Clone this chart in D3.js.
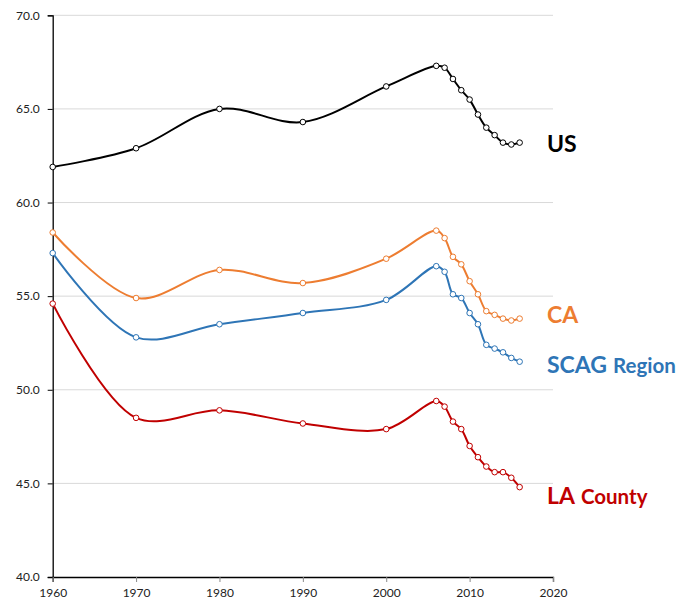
<!DOCTYPE html>
<html>
<head>
<meta charset="utf-8">
<script src="https://cdn.jsdelivr.net/npm/d3@7"></script>
<style>
  html, body { margin: 0; padding: 0; background: #fff; }
  svg { display: block; }
  text { font-family: Lato, "Open Sans", "DejaVu Sans", sans-serif; }
</style>
</head>
<body>
<svg id="chart" width="686" height="614"></svg>
<script>
const years = [1960, 1970, 1980, 1990, 2000, 2006, 2007, 2008, 2009, 2010, 2011, 2012, 2013, 2014, 2015, 2016];
const usValues   = [61.9, 62.9, 65.0, 64.3, 66.2, 67.3, 67.2, 66.6, 66.0, 65.5, 64.7, 64.0, 63.6, 63.2, 63.1, 63.2];
const caValues   = [58.4, 54.9, 56.4, 55.7, 57.0, 58.5, 58.1, 57.1, 56.7, 55.8, 55.1, 54.2, 54.0, 53.8, 53.7, 53.8];
const scagValues = [57.3, 52.8, 53.5, 54.1, 54.8, 56.6, 56.3, 55.1, 54.9, 54.1, 53.5, 52.4, 52.2, 52.0, 51.7, 51.5];
const laValues   = [54.6, 48.5, 48.9, 48.2, 47.9, 49.4, 49.1, 48.3, 47.9, 47.0, 46.4, 45.9, 45.6, 45.6, 45.3, 44.8];
const seriesNames = ["US", "CA", "SCAG", "LA"];
const seriesSub = ["", "", "Region", "County"];
const seriesColors = ["#000000", "#ED7D31", "#2E75B6", "#C00000"];
const xTicks = [1960, 1970, 1980, 1990, 2000, 2010, 2020];
const yTicks = [40, 45, 50, 55, 60, 65, 70];

(function () {
const allValues = [usValues, caValues, scagValues, laValues];
const labelY = [151.5, 323, 372.5, 504];

const svg = d3.select("#chart");
const mLeft = 52.7, mRight = 553, mTop = 15.3, mBottom = 577;
const x = d3.scaleLinear().domain([1960, 2020]).range([mLeft, mRight]);
const y = d3.scaleLinear().domain([40, 70]).range([mBottom, mTop]);

// gridlines
svg.append("g").selectAll("line").data(yTicks.filter(d => d !== 40)).join("line")
  .attr("x1", mLeft).attr("x2", mRight)
  .attr("y1", d => y(d)).attr("y2", d => y(d))
  .attr("stroke", "#d9d9d9").attr("stroke-width", 1);

// y axis
const yAxis = svg.append("g").attr("transform", `translate(${mLeft},0)`)
  .call(d3.axisLeft(y).tickValues(yTicks).tickFormat(d3.format(".1f")).tickSize(5).tickPadding(8));
yAxis.select(".domain").attr("stroke", "#000").attr("stroke-width", 1.3);
yAxis.selectAll(".tick line").attr("stroke", "#000");
yAxis.selectAll("text").attr("font-size", 12).attr("fill", "#222")
  .style("font-family", "Lato, 'Open Sans', sans-serif");

// x axis
const xAxis = svg.append("g").attr("transform", `translate(0,${mBottom})`)
  .call(d3.axisBottom(x).tickValues(xTicks).tickFormat(d3.format("d")).tickSize(5).tickPadding(6));
xAxis.select(".domain").attr("stroke", "#000").attr("stroke-width", 1.3);
xAxis.selectAll(".tick line").attr("stroke", "#888");
xAxis.selectAll("text").attr("font-size", 12).attr("fill", "#222")
  .style("font-family", "Lato, 'Open Sans', sans-serif");

const line = d3.line()
  .x(d => x(d[0])).y(d => y(d[1]))
  .curve(d3.curveCatmullRom.alpha(0.5));

allValues.forEach((vals, i) => {
  const pts = years.map((yr, j) => [yr, vals[j]]);
  const g = svg.append("g");
  g.append("path").datum(pts)
    .attr("d", line).attr("fill", "none")
    .attr("stroke", seriesColors[i]).attr("stroke-width", 2);
  g.selectAll("circle").data(pts).join("circle")
    .attr("cx", d => x(d[0])).attr("cy", d => y(d[1])).attr("r", 2.8)
    .attr("fill", "#fff").attr("stroke", seriesColors[i]).attr("stroke-width", 1);

  const t = svg.append("text")
    .attr("x", 547).attr("y", labelY[i])
    .attr("fill", seriesColors[i]).attr("font-weight", "bold");
  t.append("tspan").attr("font-size", 23).text(seriesNames[i]);
  if (seriesSub[i]) {
    t.append("tspan").attr("font-size", 20.5).attr("dx", 6).text(seriesSub[i]);
  }
});
})();
</script>
</body>
</html>
